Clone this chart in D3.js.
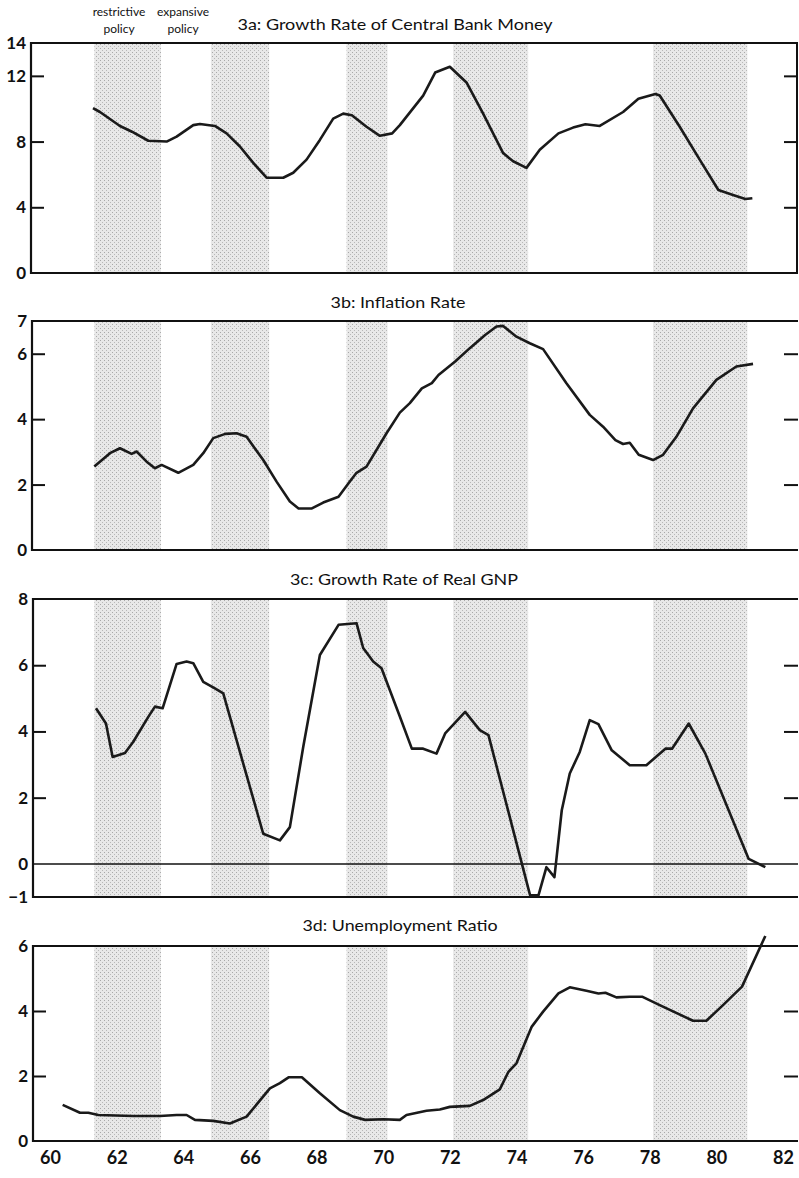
<!DOCTYPE html>
<html>
<head>
<meta charset="utf-8">
<script src="https://cdn.jsdelivr.net/npm/d3@7"></script>
<style>
  body { margin: 0; background: #fff; }
  text { font-family: Lato, "DejaVu Sans", sans-serif; fill: #111; }
</style>
</head>
<body>
<div id="chart"></div>
<script>
// policy phases (shaded = restrictive)
var policyBands = [[61.33, 63.33], [64.83, 66.58], [68.9, 70.13], [72.1, 74.35], [78.1, 80.93]];

var yearTicks = [60, 62, 64, 66, 68, 70, 72, 74, 76, 78, 80, 82];

// 3a: growth rate of central bank money
var money = [[61.29,10.04],[61.5,9.8],[62.1,8.95],[62.46,8.6],[62.95,8.05],[63.5,8.0],[63.8,8.3],
  [64.3,9.0],[64.5,9.07],[64.95,8.95],[65.3,8.5],[65.7,7.7],[66.1,6.7],[66.5,5.8],[67.0,5.8],
  [67.3,6.1],[67.7,6.9],[68.1,8.1],[68.5,9.4],[68.8,9.7],[69.06,9.6],[69.5,8.9],[69.9,8.35],
  [70.27,8.5],[70.5,9.0],[71.2,10.8],[71.56,12.2],[72.0,12.55],[72.5,11.6],[73.0,9.7],[73.6,7.3],
  [73.9,6.8],[74.3,6.4],[74.7,7.5],[75.26,8.5],[75.7,8.85],[76.07,9.05],[76.5,8.95],[77.2,9.8],
  [77.66,10.6],[78.17,10.9],[78.3,10.8],[78.9,8.9],[79.5,6.9],[80.06,5.05],[80.5,4.75],
  [80.87,4.5],[81.08,4.55]];
var moneyLabels = [0, 4, 8, 12, 14];
var moneyTicks = [4, 8, 12];

// 3b: inflation rate
var inflation = [[61.33,2.55],[61.8,2.96],[62.1,3.11],[62.45,2.94],[62.6,3.01],[62.9,2.7],
  [63.15,2.5],[63.35,2.6],[63.85,2.36],[64.3,2.6],[64.6,2.96],[64.9,3.42],[65.26,3.55],[65.6,3.57],
  [65.9,3.46],[66.4,2.75],[66.8,2.09],[67.2,1.48],[67.46,1.27],[67.86,1.27],[68.2,1.45],
  [68.66,1.63],[68.96,2.04],[69.2,2.36],[69.5,2.55],[70.1,3.57],[70.5,4.2],[70.8,4.49],
  [71.16,4.94],[71.46,5.1],[71.66,5.35],[72.16,5.76],[72.6,6.17],[73.06,6.57],[73.4,6.83],
  [73.6,6.85],[74.0,6.52],[74.4,6.32],[74.8,6.14],[75.5,5.1],[76.2,4.13],[76.6,3.77],[76.97,3.36],
  [77.2,3.24],[77.4,3.28],[77.67,2.91],[78.1,2.75],[78.4,2.91],[78.8,3.46],[79.3,4.33],[80.0,5.2],
  [80.6,5.61],[81.1,5.69]];
var inflationLabels = [0, 2, 4, 6, 7];
var inflationTicks = [2, 4, 6];

// 3c: growth rate of real GNP
var gnp = [[61.38,4.7],[61.68,4.24],[61.88,3.23],[62.25,3.35],[62.5,3.69],[62.95,4.44],[63.15,4.75],
  [63.38,4.7],[63.8,6.04],[64.1,6.11],[64.3,6.06],[64.6,5.5],[64.95,5.3],[65.2,5.15],[66.4,0.91],
  [66.9,0.71],[67.2,1.11],[67.6,3.53],[68.1,6.31],[68.66,7.22],[69.2,7.27],[69.4,6.52],[69.7,6.11],
  [69.95,5.91],[70.5,4.45],[70.86,3.48],[71.2,3.48],[71.6,3.33],[71.86,3.94],[72.46,4.59],
  [72.9,4.04],[73.16,3.89],[74.41,-0.95],[74.66,-0.95],[74.9,-0.1],[75.14,-0.4],[75.36,1.62],
  [75.6,2.73],[75.9,3.38],[76.2,4.34],[76.46,4.22],[76.86,3.43],[77.4,2.98],[77.9,2.98],
  [78.47,3.48],[78.67,3.48],[79.17,4.24],[79.67,3.33],[80.97,0.15],[81.47,-0.1]];
var gnpLabels = [-1, 0, 2, 4, 6, 8];
var gnpTicks = [2, 4, 6];

// 3d: unemployment ratio
var unemployment = [[60.38,1.11],[60.9,0.87],[61.15,0.87],[61.45,0.8],[62.5,0.77],[63.3,0.77],
  [63.8,0.8],[64.1,0.8],[64.35,0.65],[64.9,0.62],[65.4,0.54],[65.9,0.75],[66.6,1.62],[66.9,1.78],
  [67.16,1.96],[67.56,1.96],[68.1,1.47],[68.7,0.95],[69.1,0.75],[69.46,0.65],[70.0,0.67],
  [70.5,0.65],[70.7,0.8],[71.3,0.93],[71.7,0.97],[72.0,1.05],[72.6,1.08],[73.0,1.26],[73.5,1.59],
  [73.76,2.13],[74.0,2.39],[74.46,3.52],[74.8,3.98],[75.26,4.54],[75.6,4.73],[76.1,4.62],
  [76.46,4.54],[76.67,4.56],[77.0,4.42],[77.4,4.44],[77.77,4.44],[78.3,4.18],[79.3,3.7],
  [79.7,3.7],[80.2,4.18],[80.77,4.75],[81.47,6.31]];
var unemploymentLabels = [0, 2, 4, 6];
var unemploymentTicks = [2, 4];

var width = 799, height = 1178, right = 798;

var x = d3.scaleLinear().domain([60, 82]).range([50, 783]);

var panels = [
  { title: "3a: Growth Rate of Central Bank Money", tx: 395, ty: 30, tw: 315,
    left: 31, top: 43, bottom: 273, domain: [0, 14], data: money,
    labels: moneyLabels, ticks: moneyTicks, rightBorder: true },
  { title: "3b: Inflation Rate", tx: 398, ty: 308, tw: 135,
    left: 32, top: 321, bottom: 550, domain: [0, 7], data: inflation,
    labels: inflationLabels, ticks: inflationTicks },
  { title: "3c: Growth Rate of Real GNP", tx: 404, ty: 585, tw: 228,
    left: 33, top: 599, bottom: 897, domain: [-1, 8], data: gnp,
    labels: gnpLabels, ticks: gnpTicks, zeroLine: true },
  { title: "3d: Unemployment Ratio", tx: 400, ty: 931, tw: 195,
    left: 33, top: 946, bottom: 1141, domain: [0, 6], data: unemployment,
    labels: unemploymentLabels, ticks: unemploymentTicks }
];

var svg = d3.select("#chart").append("svg")
  .attr("width", width)
  .attr("height", height)
  .style("background", "#fff");

// stipple pattern for the shaded bands
var pat = svg.append("defs").append("pattern")
  .attr("id", "stipple")
  .attr("patternUnits", "userSpaceOnUse")
  .attr("width", 4).attr("height", 4);
pat.append("rect").attr("width", 4).attr("height", 4).attr("fill", "#e8e8e8");
pat.append("rect").attr("x", 0).attr("y", 0).attr("width", 1).attr("height", 1).attr("fill", "#a8a8a8");
pat.append("rect").attr("x", 2).attr("y", 2).attr("width", 1).attr("height", 1).attr("fill", "#b8b8b8");

panels.forEach(function(p) {
  var y = d3.scaleLinear().domain(p.domain).range([p.bottom, p.top]);
  var g = svg.append("g");

  // shaded bands
  g.selectAll("rect.band").data(policyBands).enter().append("rect")
    .attr("class", "band")
    .attr("x", function(d) { return x(d[0]); })
    .attr("width", function(d) { return x(d[1]) - x(d[0]); })
    .attr("y", p.top)
    .attr("height", p.bottom - p.top)
    .attr("fill", "url(#stipple)");

  // title
  g.append("text")
    .attr("x", p.tx).attr("y", p.ty)
    .attr("text-anchor", "middle")
    .attr("textLength", p.tw)
    .attr("lengthAdjust", "spacingAndGlyphs")
    .style("font-size", "16px")
    .style("font-weight", "normal")
    .text(p.title);

  // value labels on the left
  var lab = g.append("g")
    .attr("transform", "translate(" + p.left + ",0)")
    .call(d3.axisLeft(y).tickValues(p.labels).tickFormat(d3.format("d")).tickSize(0).tickPadding(5));
  lab.select(".domain").remove();
  lab.selectAll("text")
    .style("font-family", "Lato, sans-serif")
    .style("font-size", "17px")
    .style("font-weight", "bold")
    .attr("fill", "#111");

  // inward ticks, left and right
  var lt = g.append("g")
    .attr("transform", "translate(" + p.left + ",0)")
    .call(d3.axisLeft(y).tickValues(p.ticks).tickSize(-13).tickFormat(""));
  lt.select(".domain").remove();
  var rt = g.append("g")
    .attr("transform", "translate(" + right + ",0)")
    .call(d3.axisRight(y).tickValues(p.ticks).tickSize(-14).tickFormat(""));
  rt.select(".domain").remove();
  g.selectAll(".tick line").attr("stroke", "#111").attr("stroke-width", 2);

  // frame
  g.append("line").attr("x1", p.left).attr("x2", right).attr("y1", p.top).attr("y2", p.top)
    .attr("stroke", "#111").attr("stroke-width", 2);
  g.append("line").attr("x1", p.left).attr("x2", right).attr("y1", p.bottom).attr("y2", p.bottom)
    .attr("stroke", "#111").attr("stroke-width", 2.2);
  g.append("line").attr("x1", p.left).attr("x2", p.left).attr("y1", p.top - 1).attr("y2", p.bottom + 1)
    .attr("stroke", "#111").attr("stroke-width", 2.2);
  if (p.rightBorder) {
    g.append("line").attr("x1", right - 1).attr("x2", right - 1).attr("y1", p.top).attr("y2", p.bottom)
      .attr("stroke", "#111").attr("stroke-width", 2);
  }
  if (p.zeroLine) {
    g.append("line").attr("x1", p.left).attr("x2", right).attr("y1", y(0)).attr("y2", y(0))
      .attr("stroke", "#111").attr("stroke-width", 1.5);
  }

  // the series
  var line = d3.line()
    .x(function(d) { return x(d[0]); })
    .y(function(d) { return y(d[1]); });
  g.append("path")
    .attr("d", line(p.data))
    .attr("fill", "none")
    .attr("stroke", "#1a1a1a")
    .attr("stroke-width", 2.6)
    .attr("stroke-linejoin", "round");
});

// legend labels above the first panel
var legend = [
  { lines: ["restrictive", "policy"], cx: 119 },
  { lines: ["expansive", "policy"], cx: 183 }
];
legend.forEach(function(l) {
  l.lines.forEach(function(s, i) {
    svg.append("text")
      .attr("x", l.cx).attr("y", 16 + i * 17)
      .attr("text-anchor", "middle")
      .style("font-size", "12px")
      .text(s);
  });
});

// year axis at the bottom
var xa = svg.append("g")
  .attr("transform", "translate(0," + 1141 + ")")
  .call(d3.axisBottom(x).tickValues(yearTicks).tickSize(0).tickPadding(10));
xa.select(".domain").remove();
xa.selectAll("text")
  .style("font-family", "Lato, sans-serif")
  .style("font-size", "18px")
  .style("font-weight", "bold")
  .attr("fill", "#111");
</script>
</body>
</html>
